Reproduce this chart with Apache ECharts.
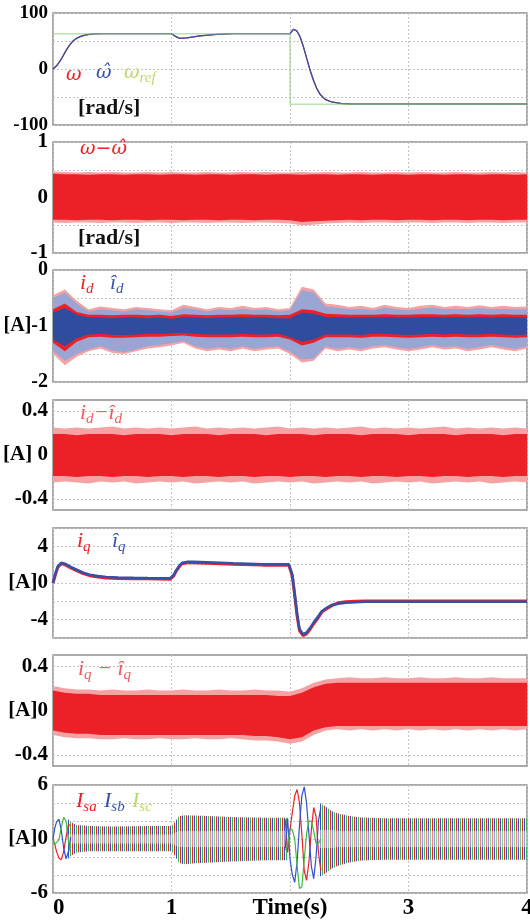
<!DOCTYPE html>
<html><head><meta charset="utf-8">
<script src="https://cdn.jsdelivr.net/npm/echarts@6/dist/echarts.min.js"></script>
<style>html,body{margin:0;padding:0;background:#fff}#c{width:530px;height:920px}</style>
</head><body><div id="c"></div>
<script>
// ---------------- DATA ----------------
const xTicks = [0, 1, 2, 3, 4];
const xTickText = ['0', '1', 'Time(s)', '3', '4'];

// panel 1: speed [rad/s]
const wT = [0,0.028,0.056,0.084,0.112,0.14,0.168,0.197,0.239,0.28,0.337,0.42,1.0,1.03,1.07,1.13,1.24,1.38,1.52,2.0,2.028,2.056,2.085,2.113,2.141,2.169,2.197,2.225,2.254,2.296,2.353,2.437,2.507,4.0];
const omegaHat = [0,5.3,13,23,33.8,42.7,49.8,54.6,58.7,61,62.8,63,63,58.7,54.6,55.7,59.3,61.7,63,63,70.9,68.4,57.7,39.9,19,-1.8,-19.6,-34.5,-45.2,-54.2,-58.9,-61.9,-62.5,-62.8];
const omega = [0,5.3,13,23,33.8,42.7,49.8,54.6,58.7,61,62.8,63,63,58.7,54.6,55.7,59.3,61.7,63,63,70.9,68.4,57.7,39.9,19,-1.8,-19.6,-34.5,-45.2,-54.2,-58.9,-61.9,-62.5,-62.8];
const wRefT = [0, 2, 2, 4];
const omegaRef = [63, 63, -63, -63];
const yTicks1 = [100, 0, -100], yText1 = ['100', '0', '-100'];

// time base for noise envelopes
const tN = [0,0.1,0.2,0.3,0.4,0.5,0.6,0.7,0.8,0.9,1.0,1.1,1.2,1.3,1.4,1.5,1.6,1.7,1.8,1.9,2.0,2.1,2.2,2.3,2.4,2.5,2.6,2.7,2.8,2.9,3.0,3.1,3.2,3.3,3.4,3.5,3.6,3.7,3.8,3.9,4.0];

// panel 2: omega - omegaHat envelopes
const wErrSpHi = [0.47,0.46,0.45,0.46,0.45,0.46,0.45,0.45,0.46,0.45,0.46,0.45,0.45,0.46,0.45,0.45,0.46,0.45,0.46,0.45,0.45,0.46,0.45,0.46,0.45,0.45,0.46,0.45,0.45,0.46,0.45,0.46,0.45,0.45,0.46,0.45,0.45,0.46,0.45,0.46,0.45];
const wErrHi = [0.43,0.42,0.42,0.41,0.42,0.42,0.41,0.42,0.42,0.41,0.42,0.42,0.41,0.42,0.42,0.41,0.42,0.42,0.41,0.42,0.42,0.41,0.42,0.42,0.41,0.42,0.42,0.41,0.42,0.42,0.41,0.42,0.42,0.41,0.42,0.42,0.41,0.42,0.42,0.41,0.42];
const wErrLo = [-0.40,-0.40,-0.41,-0.40,-0.40,-0.41,-0.40,-0.40,-0.41,-0.40,-0.40,-0.41,-0.40,-0.40,-0.41,-0.40,-0.40,-0.41,-0.40,-0.40,-0.41,-0.44,-0.43,-0.42,-0.41,-0.40,-0.41,-0.40,-0.40,-0.41,-0.40,-0.40,-0.41,-0.40,-0.40,-0.41,-0.40,-0.40,-0.41,-0.40,-0.40];
const wErrSpLo = [-0.45,-0.46,-0.45,-0.45,-0.46,-0.45,-0.45,-0.46,-0.45,-0.45,-0.46,-0.45,-0.45,-0.46,-0.45,-0.45,-0.46,-0.45,-0.45,-0.46,-0.47,-0.50,-0.49,-0.47,-0.46,-0.45,-0.46,-0.45,-0.45,-0.46,-0.45,-0.45,-0.46,-0.45,-0.45,-0.46,-0.45,-0.45,-0.46,-0.45,-0.45];
const yTicks2 = [1, 0, -1], yText2 = ['1', '0', '-1'];

// panel 3: id and id-hat envelopes
const idSpHi = [-0.45,-0.35,-0.55,-0.70,-0.65,-0.68,-0.70,-0.66,-0.68,-0.70,-0.72,-0.62,-0.66,-0.70,-0.66,-0.68,-0.64,-0.68,-0.66,-0.70,-0.68,-0.30,-0.35,-0.60,-0.62,-0.66,-0.64,-0.68,-0.62,-0.66,-0.68,-0.64,-0.62,-0.66,-0.64,-0.66,-0.63,-0.66,-0.64,-0.66,-0.65];
const idSpLo = [-1.50,-1.70,-1.55,-1.45,-1.40,-1.48,-1.50,-1.45,-1.40,-1.38,-1.35,-1.30,-1.40,-1.45,-1.42,-1.45,-1.40,-1.45,-1.42,-1.40,-1.50,-1.65,-1.62,-1.40,-1.45,-1.42,-1.45,-1.40,-1.38,-1.42,-1.45,-1.42,-1.38,-1.42,-1.40,-1.45,-1.42,-1.38,-1.42,-1.45,-1.40];
const idHatSpHi = [-0.50,-0.40,-0.60,-0.74,-0.70,-0.72,-0.74,-0.70,-0.72,-0.74,-0.76,-0.68,-0.70,-0.74,-0.70,-0.72,-0.69,-0.72,-0.70,-0.74,-0.72,-0.36,-0.40,-0.65,-0.67,-0.70,-0.69,-0.72,-0.67,-0.70,-0.72,-0.69,-0.67,-0.70,-0.69,-0.70,-0.68,-0.70,-0.69,-0.70,-0.70];
const idHatSpLo = [-1.45,-1.62,-1.50,-1.42,-1.36,-1.44,-1.47,-1.42,-1.36,-1.34,-1.31,-1.27,-1.36,-1.41,-1.38,-1.41,-1.36,-1.41,-1.38,-1.36,-1.46,-1.60,-1.58,-1.36,-1.41,-1.38,-1.41,-1.36,-1.34,-1.38,-1.41,-1.38,-1.34,-1.38,-1.36,-1.41,-1.38,-1.34,-1.38,-1.41,-1.36];
const idHi = [-0.70,-0.60,-0.75,-0.80,-0.80,-0.81,-0.80,-0.80,-0.81,-0.80,-0.82,-0.79,-0.80,-0.81,-0.80,-0.80,-0.79,-0.80,-0.80,-0.81,-0.80,-0.70,-0.72,-0.78,-0.79,-0.80,-0.80,-0.80,-0.79,-0.80,-0.80,-0.79,-0.79,-0.80,-0.79,-0.80,-0.79,-0.80,-0.79,-0.80,-0.80];
const idLo = [-1.30,-1.45,-1.28,-1.20,-1.19,-1.21,-1.21,-1.20,-1.19,-1.19,-1.18,-1.17,-1.19,-1.20,-1.20,-1.20,-1.19,-1.20,-1.20,-1.19,-1.24,-1.35,-1.30,-1.20,-1.20,-1.20,-1.21,-1.19,-1.19,-1.20,-1.21,-1.20,-1.19,-1.20,-1.19,-1.20,-1.20,-1.19,-1.20,-1.21,-1.20];
const idHatHi = [-0.76,-0.68,-0.80,-0.85,-0.85,-0.86,-0.85,-0.85,-0.86,-0.85,-0.87,-0.84,-0.85,-0.86,-0.85,-0.85,-0.84,-0.85,-0.85,-0.86,-0.86,-0.76,-0.78,-0.84,-0.84,-0.85,-0.85,-0.85,-0.84,-0.85,-0.85,-0.84,-0.84,-0.85,-0.84,-0.85,-0.84,-0.85,-0.84,-0.85,-0.85];
const idHatLo = [-1.24,-1.36,-1.22,-1.15,-1.14,-1.16,-1.16,-1.15,-1.14,-1.14,-1.13,-1.12,-1.14,-1.15,-1.15,-1.15,-1.14,-1.15,-1.15,-1.14,-1.20,-1.28,-1.24,-1.15,-1.15,-1.15,-1.16,-1.14,-1.14,-1.15,-1.16,-1.15,-1.14,-1.15,-1.14,-1.15,-1.15,-1.14,-1.15,-1.16,-1.15];
const yTicks3 = [0, -1, -2], yText3 = ['0', '[A]-1', '-2'];

// panel 4: id - id-hat envelopes
const deSpHi = [0.25,0.24,0.25,0.24,0.25,0.26,0.24,0.25,0.24,0.25,0.24,0.25,0.26,0.24,0.25,0.24,0.25,0.24,0.25,0.26,0.24,0.25,0.24,0.25,0.24,0.25,0.26,0.24,0.25,0.24,0.25,0.24,0.25,0.26,0.24,0.25,0.24,0.25,0.24,0.25,0.24];
const deHi = [0.19,0.19,0.18,0.19,0.19,0.19,0.18,0.19,0.19,0.19,0.18,0.19,0.19,0.19,0.18,0.19,0.19,0.19,0.18,0.19,0.19,0.19,0.18,0.19,0.19,0.19,0.18,0.19,0.19,0.19,0.18,0.19,0.19,0.19,0.18,0.19,0.19,0.19,0.18,0.19,0.19];
const deLo = [-0.19,-0.19,-0.20,-0.19,-0.19,-0.20,-0.19,-0.19,-0.20,-0.19,-0.19,-0.20,-0.19,-0.19,-0.20,-0.19,-0.19,-0.20,-0.19,-0.19,-0.20,-0.19,-0.19,-0.20,-0.19,-0.19,-0.20,-0.19,-0.19,-0.20,-0.19,-0.19,-0.20,-0.19,-0.19,-0.20,-0.19,-0.19,-0.20,-0.19,-0.19];
const deSpLo = [-0.25,-0.24,-0.25,-0.26,-0.24,-0.25,-0.24,-0.26,-0.25,-0.24,-0.25,-0.24,-0.26,-0.25,-0.24,-0.25,-0.24,-0.26,-0.25,-0.24,-0.25,-0.24,-0.26,-0.25,-0.24,-0.25,-0.24,-0.26,-0.25,-0.24,-0.25,-0.24,-0.26,-0.25,-0.24,-0.25,-0.24,-0.26,-0.25,-0.24,-0.25];
const yTicks4 = [0.4, 0, -0.4], yText4 = ['0.4', '[A] 0', '-0.4'];
const yGrid4 = [0.4, -0.4];

// panel 5: iq and iq-hat
const iqT = [0,0.02,0.04,0.07,0.10,0.15,0.20,0.25,0.31,0.38,0.45,0.55,0.68,0.80,0.99,1.00,1.02,1.04,1.07,1.09,1.13,1.18,1.30,1.52,1.77,1.99,2.00,2.02,2.04,2.06,2.08,2.11,2.14,2.17,2.20,2.24,2.27,2.31,2.35,2.41,2.47,2.55,2.63,2.80,3.20,3.60,4.00];
const iqHat = [0,1.0,1.8,2.2,2.1,1.75,1.45,1.15,0.9,0.75,0.65,0.6,0.57,0.55,0.52,0.55,0.9,1.4,1.95,2.2,2.3,2.3,2.25,2.15,2.05,2.05,2.0,0.9,-1.2,-3.4,-5.0,-5.6,-5.4,-4.9,-4.3,-3.6,-3.05,-2.7,-2.4,-2.25,-2.15,-2.1,-2.05,-2.05,-2.05,-2.05,-2.05];
const iq = [0,0.9,1.7,2.1,2.0,1.65,1.35,1.05,0.8,0.65,0.55,0.5,0.47,0.45,0.42,0.45,0.8,1.3,1.85,2.1,2.2,2.2,2.15,2.05,1.95,1.95,1.9,0.7,-1.4,-3.6,-5.2,-5.75,-5.55,-5.05,-4.45,-3.75,-3.15,-2.8,-2.5,-2.15,-2.05,-2.0,-1.95,-1.95,-1.95,-1.95,-1.95];
const yTicks5 = [4, 0, -4], yText5 = ['4', '[A]0', '-4'];

// panel 6: iq - iq-hat envelopes
const qeSpHi = [0.22,0.20,0.19,0.19,0.18,0.19,0.18,0.18,0.19,0.18,0.18,0.19,0.18,0.18,0.19,0.18,0.18,0.19,0.18,0.18,0.17,0.20,0.25,0.28,0.29,0.30,0.29,0.29,0.30,0.29,0.29,0.30,0.29,0.29,0.30,0.29,0.29,0.30,0.29,0.29,0.29];
const qeHi = [0.18,0.16,0.15,0.15,0.14,0.14,0.14,0.14,0.14,0.14,0.14,0.14,0.14,0.14,0.14,0.14,0.14,0.14,0.14,0.13,0.13,0.16,0.21,0.24,0.25,0.25,0.25,0.25,0.25,0.25,0.25,0.25,0.25,0.25,0.25,0.25,0.25,0.25,0.25,0.25,0.25];
const qeLo = [-0.18,-0.20,-0.21,-0.21,-0.22,-0.22,-0.22,-0.22,-0.22,-0.22,-0.22,-0.22,-0.22,-0.22,-0.22,-0.22,-0.22,-0.23,-0.23,-0.24,-0.26,-0.24,-0.18,-0.15,-0.14,-0.14,-0.14,-0.14,-0.14,-0.14,-0.14,-0.14,-0.14,-0.14,-0.14,-0.14,-0.14,-0.14,-0.14,-0.14,-0.14];
const qeSpLo = [-0.22,-0.24,-0.25,-0.25,-0.26,-0.26,-0.25,-0.26,-0.26,-0.25,-0.26,-0.26,-0.25,-0.26,-0.26,-0.25,-0.26,-0.27,-0.27,-0.28,-0.30,-0.28,-0.22,-0.18,-0.17,-0.18,-0.17,-0.18,-0.17,-0.18,-0.17,-0.18,-0.17,-0.18,-0.17,-0.18,-0.17,-0.18,-0.17,-0.18,-0.17];
const yTicks6 = [0.4, 0, -0.4], yText6 = ['0.4', '[A]0', '-0.4'];
const yGrid6 = [0.4, -0.4];

// panel 7: phase currents (dense oscillation envelopes + transients)
const isBand1T = [0.12,0.15,0.2,0.3,0.5,0.8,1.0,1.03,1.06,1.1,1.2,1.5,1.8,1.98];
const isBand1Hi = [2.3,1.9,1.55,1.45,1.4,1.45,1.45,1.9,2.5,2.65,2.6,2.45,2.35,2.35];
const isBand1Lo = [-2.3,-1.9,-1.5,-1.35,-1.35,-1.35,-1.35,-1.9,-2.6,-2.8,-2.7,-2.5,-2.35,-2.35];
const isMid1Hi = [0.5,0.5,0.5,0.5,0.5,0.5,0.5,0.7,0.9,0.9,0.9,0.9,0.9,0.9];
const isMid1Lo = [-0.5,-0.5,-0.5,-0.5,-0.5,-0.5,-0.5,-0.7,-0.9,-0.9,-0.9,-0.9,-0.9,-0.9];
const isBand2T = [2.25,2.3,2.35,2.4,2.5,2.6,2.8,3.2,3.6,4.0];
const isBand2Hi = [4.0,3.6,3.1,2.85,2.55,2.4,2.3,2.3,2.3,2.3];
const isBand2Lo = [-4.2,-3.8,-3.3,-3.0,-2.6,-2.4,-2.3,-2.3,-2.3,-2.3];
const isMid2Hi = [1.0,1.0,1.0,0.9,0.9,0.9,0.9,0.9,0.9,0.9];
const isMid2Lo = [-1.0,-1.0,-1.0,-0.9,-0.9,-0.9,-0.9,-0.9,-0.9,-0.9];
const isTr1T = [0,0.015,0.03,0.05,0.07,0.09,0.11,0.13,0.15];
const isaTr1 = [0,-0.6,-1.4,-2.1,-2.3,-1.4,0.2,1.6,1.5];
const isbTr1 = [0,1.2,1.9,2.2,1.0,-1.0,-2.2,-1.4,0.2];
const iscTr1 = [0,-0.6,-0.5,-0.1,1.3,2.4,2.0,-0.2,-1.7];
const isTr2T = [1.96,1.98,2.00,2.02,2.04,2.06,2.08,2.10,2.12,2.14,2.16,2.18,2.20,2.22,2.24,2.26];
const isaTr2 = [2.2,-1.5,1.0,3.0,4.8,5.5,4.0,0.5,-3.5,-4.6,-2.5,1.0,3.5,2.5,-1.5,-3.5];
const isbTr2 = [-1.0,2.3,-2.2,-4.0,-4.8,-2.5,1.5,4.8,5.8,4.0,0.5,-3.0,-4.4,-2.0,2.0,3.5];
const iscTr2 = [-1.2,-0.8,1.2,1.0,0.0,-3.0,-5.5,-5.3,-2.3,0.6,2.0,2.0,0.9,-0.5,-0.5,0.0];
const yTicks7 = [6, 0, -6], yText7 = ['6', '[A]0', '-6'];

// ---------------- STYLE / LAYOUT ----------------
const RED = '#ec2127', PINK = '#f4a3a5', BLUE = '#2f4c9f', LBLUE = '#9aa5d3';
const PH_B = '#2f4fd0', PH_C = '#3fb83a';
const SERIF = "'Liberation Serif','Times New Roman',serif";
const GREEK = "'DejaVu Serif',serif";
const panels = [
  {top:13, bottom:125, min:-100, max:100, interval:50, ticks:yTicks1, text:yText1, fs:19},
  {top:142, bottom:253, min:-1, max:1, interval:0.5, ticks:yTicks2, text:yText2, fs:21},
  {top:270, bottom:382, min:-2, max:0, interval:0.5, ticks:yTicks3, text:yText3, fs:20},
  {top:400, bottom:510, min:-0.5, max:0.5, interval:0.1, ticks:yTicks4, text:yText4, fs:21, mark:true},
  {top:528, bottom:638, min:-6, max:6, interval:2, ticks:yTicks5, text:yText5, fs:21},
  {top:655, bottom:766, min:-0.5, max:0.5, interval:0.1, ticks:yTicks6, text:yText6, fs:21, mark:true},
  {top:785, bottom:893, min:-6, max:6, interval:2, ticks:yTicks7, text:yText7, fs:21}
];
const gridLine = {type:[2,2], color:'#c4c4c4', width:1};

function lookup(vals, texts){
  return function(v){
    for (let i=0;i<vals.length;i++) if (Math.abs(v-vals[i])<1e-6) return texts[i];
    return '';
  };
}
function band(gi, t, lo, hi, fill, z){
  return {type:'custom', xAxisIndex:gi, yAxisIndex:gi, z:z, silent:true, clip:true,
    data:[[t[0], lo[0]]],
    renderItem:function(params, api){
      const pts = [];
      for (let i=0;i<t.length;i++) pts.push(api.coord([t[i], hi[i]]));
      for (let i=t.length-1;i>=0;i--) pts.push(api.coord([t[i], lo[i]]));
      return {type:'polygon', shape:{points:pts}, style:{fill:fill}};
    }};
}
function line(gi, t, v, color, width, z, opacity){
  return {type:'line', xAxisIndex:gi, yAxisIndex:gi, z:z, silent:true, symbol:'none',
    data:t.map((x,i)=>[x, v[i]]),
    lineStyle:{color:color, width:width, opacity:opacity==null?1:opacity}};
}
function gridMarks(gi, vals){
  return {type:'line', xAxisIndex:gi, yAxisIndex:gi, z:1, data:[], silent:true,
    markLine:{silent:true, symbol:'none', label:{show:false}, lineStyle:gridLine, animation:false,
      data:vals.map(v=>({yAxis:v}))}};
}

// stripe pattern for dense 3-phase oscillation
const pc = document.createElement('canvas'); pc.width = 6; pc.height = 2;
const pctx = pc.getContext('2d');
pctx.fillStyle = '#ffffff'; pctx.fillRect(0,0,6,2);
pctx.fillStyle = RED; pctx.fillRect(0,0,1,2);
pctx.fillStyle = PH_B; pctx.fillRect(2,0,1,2);
pctx.fillStyle = PH_C; pctx.fillRect(4,0,1,2);
const stripe = {image:pc, repeat:'repeat'};

const series = [
  line(0, wT, omega, RED, 1.2, 2),
  line(0, wT, omegaHat, '#3552a8', 1.3, 3),
  line(0, wRefT, omegaRef, '#8fd07a', 1.6, 4, 0.6),

  band(1, tN, wErrSpLo, wErrSpHi, PINK, 2),
  band(1, tN, wErrLo, wErrHi, RED, 3),

  band(2, tN, idSpLo, idSpHi, PINK, 2),
  band(2, tN, idHatSpLo, idHatSpHi, LBLUE, 3),
  band(2, tN, idLo, idHi, RED, 4),
  band(2, tN, idHatLo, idHatHi, BLUE, 5),

  gridMarks(3, yGrid4),
  band(3, tN, deSpLo, deSpHi, PINK, 2),
  band(3, tN, deLo, deHi, RED, 3),

  line(4, iqT, iq, RED, 3, 3),
  line(4, iqT, iqHat, '#3550a6', 2.6, 4),

  gridMarks(5, yGrid6),
  band(5, tN, qeSpLo, qeSpHi, PINK, 2),
  band(5, tN, qeLo, qeHi, RED, 3),

  band(6, isBand1T, isBand1Lo, isBand1Hi, stripe, 2),
  band(6, isBand2T, isBand2Lo, isBand2Hi, stripe, 2),
  band(6, isBand1T, isMid1Lo, isMid1Hi, 'rgba(235,235,235,0.5)', 3),
  band(6, isBand2T, isMid2Lo, isMid2Hi, 'rgba(235,235,235,0.5)', 3),
  line(6, isTr1T, isaTr1, RED, 1.2, 5),
  line(6, isTr1T, isbTr1, PH_B, 1.2, 5),
  line(6, isTr1T, iscTr1, PH_C, 1.2, 5),
  line(6, isTr2T, isaTr2, RED, 1.2, 5),
  line(6, isTr2T, isbTr2, PH_B, 1.2, 5),
  line(6, isTr2T, iscTr2, PH_C, 1.2, 5)
];

// legend texts
const M = {fontFamily:SERIF, fontStyle:'italic', fontSize:22, lineHeight:26, verticalAlign:'bottom'};
const G = {fontFamily:GREEK, fontStyle:'italic', fontSize:19, lineHeight:26, verticalAlign:'bottom'};
const S = {fontFamily:SERIF, fontStyle:'italic', fontSize:15, lineHeight:26, verticalAlign:'bottom', padding:[0,0,-3,0]};
function legend(x, y, parts){
  let txt = ''; const rich = {};
  parts.forEach((p, i) => {
    const k = 'k' + i;
    const base = p[2] === 's' ? S : (p[2] === 'g' ? G : M);
    rich[k] = Object.assign({}, base, {fill:p[1], color:p[1]});
    txt += '{' + k + '|' + p[0] + '}';
  });
  return {type:'text', left:x, top:y, z:100, silent:true, style:{text:txt, rich:rich, fill:parts[0][1]}};
}
const unitStyle = {fontFamily:SERIF, fontWeight:'bold', fontSize:22, fill:'#111'};
const HB = '#3a52a6', LG = '#b9d86e', LR = '#f05a5e';
const graphic = [
  legend(66, 66, [['\u03c9', RED, 'g']]),
  legend(96, 64, [['\u03c9\u0302', HB, 'g']]),
  legend(124, 64, [['\u03c9', LG, 'g'], ['ref', LG, 's']]),
  {type:'text', left:78, top:97, silent:true, z:100, style:Object.assign({text:'[rad/s]'}, unitStyle)},
  legend(80, 140, [['\u03c9\u2212\u03c9\u0302', RED, 'g']]),
  {type:'text', left:78, top:227, silent:true, z:100, style:Object.assign({text:'[rad/s]'}, unitStyle)},
  legend(80, 272, [['i', RED], ['d', RED, 's']]),
  legend(110, 272, [['\u00ee', HB], ['d', HB, 's']]),
  legend(80, 402, [['i', LR], ['d', LR, 's'], ['\u2212\u00ee', LR], ['d', LR, 's']]),
  legend(77, 530, [['i', RED], ['q', RED, 's']]),
  legend(112, 530, [['\u00ee', HB], ['q', HB, 's']]),
  legend(78, 658, [['i', LR], ['q', LR, 's'], [' \u2212 \u00ee', LR], ['q', LR, 's']]),
  legend(76, 790, [['I', RED], ['sa', RED, 's']]),
  legend(104, 790, [['I', HB], ['sb', HB, 's']]),
  legend(132, 790, [['I', LG], ['sc', LG, 's']])
];

const option = {
  animation:false,
  backgroundColor:'#fff',
  grid: panels.map(p => ({left:53, right:3, top:p.top, height:p.bottom-p.top, show:true,
    borderColor:'#8e8e8e', borderWidth:1.5, backgroundColor:'rgba(0,0,0,0)', containLabel:false, outerBoundsMode:'none'})),
  xAxis: panels.map((p, i) => ({type:'value', gridIndex:i, min:0, max:4, interval:1,
    axisLine:{show:false}, axisTick:{show:false},
    splitLine:{show:true, lineStyle:gridLine},
    axisLabel:{show:i===6, formatter:lookup(xTicks, xTickText), fontFamily:SERIF, fontWeight:'bold',
      fontSize:23, color:'#000', margin:4, alignMinLabel:'left'}})),
  yAxis: panels.map((p, i) => ({type:'value', gridIndex:i, min:p.min, max:p.max, interval:p.interval,
    axisLine:{show:false}, axisTick:{show:false},
    splitLine:{show:!p.mark, lineStyle:gridLine},
    axisLabel:{formatter:lookup(p.ticks, p.text), fontFamily:SERIF, fontWeight:'bold', fontSize:p.fs,
      color:'#000', margin:5, showMinLabel:true, showMaxLabel:true}})),
  series: series,
  graphic: graphic
};
const chart = echarts.init(document.getElementById('c'), null, {renderer:'canvas'});
chart.setOption(option);
</script></body></html>
